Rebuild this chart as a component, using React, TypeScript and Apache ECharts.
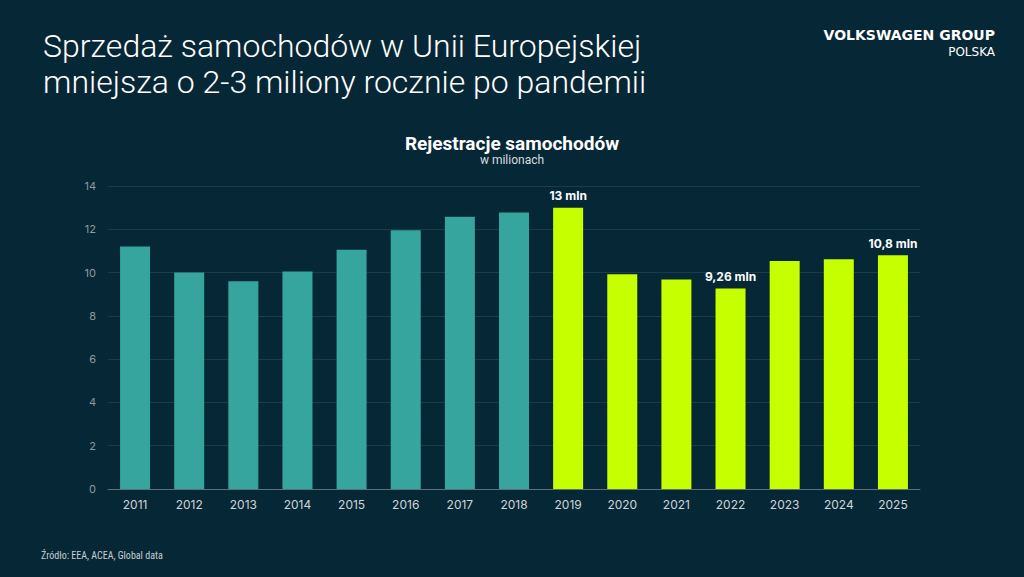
import React, { useEffect, useRef } from "react";
import * as echarts from "echarts";

const years = ["2011", "2012", "2013", "2014", "2015", "2016", "2017", "2018", "2019", "2020", "2021", "2022", "2023", "2024", "2025"];
const registrations = [11.2, 10.0, 9.6, 10.05, 11.05, 11.95, 12.58, 12.78, 13.0, 9.92, 9.68, 9.26, 10.54, 10.62, 10.8];
const highlightFrom = 8; // index of 2019 onward
const labels: Record<number, string> = { 8: "13 mln", 11: "9,26 mln", 14: "10,8 mln" };
const yTicks = { min: 0, max: 14, interval: 2 };

const BG = "#062735";
const TEAL = "#35a59d";
const LIME = "#c6ff00";

export default function App() {
  const ref = useRef<HTMLDivElement>(null);
  useEffect(() => {
    document.body.style.margin = "0";
    document.body.style.background = BG;
    const chart = echarts.init(ref.current!, null, { renderer: "svg" });
    const data = registrations.map((v, i) => ({
      value: v,
      itemStyle: { color: i >= highlightFrom ? LIME : TEAL },
      label: labels[i]
        ? {
            show: true,
            position: "top",
            distance: 6,
            formatter: labels[i],
            color: "#ffffff",
            fontWeight: "bold",
            fontSize: 12,
            fontFamily: "Inter, Roboto, sans-serif",
          }
        : { show: false },
    }));
    chart.setOption({
      animation: false,
      backgroundColor: BG,
      title: [
        {
          text: "Rejestracje samochodów",
          left: "center",
          top: 129,
          textStyle: { color: "#ffffff", fontSize: 19, fontWeight: "bold", fontFamily: "Roboto, Inter, sans-serif" },
          subtext: "w milionach",
          itemGap: 1,
          subtextStyle: { color: "#d8dde0", fontSize: 12, fontFamily: "Roboto, sans-serif" },
        },
      ],
      graphic: [
        {
          type: "text",
          left: 43,
          top: 28,
          style: {
            text: "Sprzedaż samochodów w Unii Europejskiej\nmniejsza o 2-3 miliony rocznie po pandemii",
            fill: "#ffffff",
            font: "300 32px Roboto, Inter, sans-serif",
            lineHeight: 36,
          },
        },
        {
          type: "text",
          right: 29,
          top: 28,
          style: {
            text: "VOLKSWAGEN GROUP",
            fill: "#ffffff",
            font: "bold 14px 'DejaVu Sans', sans-serif",
          },
        },
        {
          type: "text",
          right: 29,
          top: 46,
          style: {
            text: "POLSKA",
            fill: "#ffffff",
            font: "12px 'DejaVu Sans', sans-serif",
          },
        },
        {
          type: "text",
          left: 41,
          top: 550,
          style: {
            text: "Źródło: EEA, ACEA, Global data",
            fill: "#c9d0d4",
            font: "10px 'Liberation Sans Narrow', 'Roboto Condensed', sans-serif",
          },
        },
      ],
      grid: { left: 108, right: 104, top: 186, bottom: 88 },
      xAxis: {
        type: "category",
        data: years,
        axisLine: { lineStyle: { color: "#5d707a", width: 1 } },
        axisTick: { show: false },
        axisLabel: { color: "#cfd6da", fontSize: 12, margin: 9, fontFamily: "Inter, Roboto, sans-serif" },
      },
      yAxis: {
        type: "value",
        min: yTicks.min,
        max: yTicks.max,
        interval: yTicks.interval,
        axisLine: { show: false },
        axisTick: { show: false },
        axisLabel: { color: "#8d9ba3", fontSize: 11, margin: 12, fontFamily: "Inter, Roboto, sans-serif" },
        splitLine: { lineStyle: { color: "#1d3c49", width: 1 } },
      },
      series: [
        {
          type: "bar",
          data,
          barWidth: 30,
        },
      ],
    });
    return () => chart.dispose();
  }, []);
  return <div ref={ref} style={{ width: 1024, height: 577 }} />;
}
